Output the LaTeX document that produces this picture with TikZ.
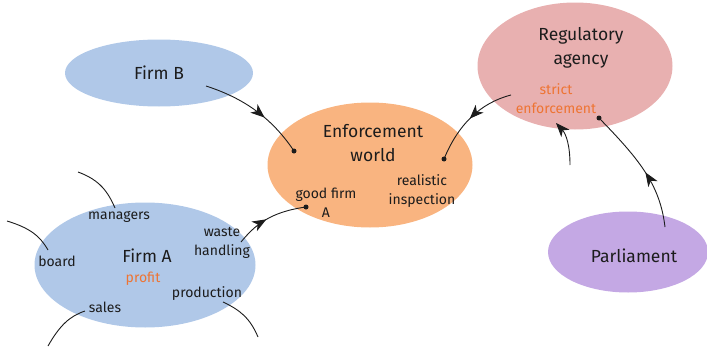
\documentclass[tikz,border=0pt]{standalone}
\usepackage{fontspec}
\setmainfont{Fira Sans}
\usetikzlibrary{shapes.geometric,arrows.meta,decorations.markings}
\definecolor{firmblue}{RGB}{176,200,232}
\definecolor{enforange}{RGB}{249,180,128}
\definecolor{regpink}{RGB}{232,176,176}
\definecolor{parlpurple}{RGB}{196,168,228}
\definecolor{accent}{RGB}{238,116,51}
\definecolor{ink}{RGB}{28,28,28}
\tikzset{
  blob/.style={ellipse, draw=none, inner sep=0pt},
  bigtxt/.style={font=\fontsize{17.5}{24}\selectfont, text=ink, align=center, inner sep=0pt},
  smalltxt/.style={font=\fontsize{14}{19}\selectfont, text=ink, align=center, inner sep=0pt},
  accenttxt/.style={font=\fontsize{14}{19}\selectfont, text=accent, align=center, inner sep=0pt},
  midarrow/.style={postaction={decorate}, decoration={markings,
      mark=at position #1 with {\arrow{Stealth[length=14pt,width=11pt,inset=4pt]}}}},
  conn/.style={draw=ink, line width=0.9pt},
  enddot/.style={circle, fill=ink, inner sep=0pt, minimum size=5pt}
}
\begin{document}
\begin{tikzpicture}[x=1pt,y=-1pt]
\useasboundingbox (0,0) rectangle (707,348);
% ellipses
\node[blob, fill=firmblue, minimum width=188pt, minimum height=67pt] (firmB) at (159,73) {};
\node[blob, fill=firmblue, minimum width=221pt, minimum height=125pt] (firmA) at (145,265) {};
\node[blob, fill=enforange, minimum width=205pt, minimum height=125pt] (enf) at (370,165) {};
\node[blob, fill=regpink, minimum width=195pt, minimum height=127pt] (reg) at (575,66) {};
\node[blob, fill=parlpurple, minimum width=160pt, minimum height=81pt] (parl) at (628,252) {};
% labels
\node[bigtxt] (tFirmB) at (159,73) {Firm B};
\node[bigtxt] (tEnf) at (373,143) {Enforcement\\world};
\node[smalltxt] (tGood) at (326,203) {good firm\\A};
\node[smalltxt] (tReal) at (422,191) {realistic\\inspection};
\node[bigtxt] (tReg) at (581,48) {Regulatory\\agency};
\node[accenttxt] (tStrict) at (556,99) {strict\\enforcement};
\node[bigtxt] (tFirmA) at (147,256) {Firm A};
\node[accenttxt] (tProfit) at (143,279) {profit};
\node[smalltxt] (tMan) at (119,217) {managers};
\node[smalltxt] (tBoard) at (57,261) {board};
\node[smalltxt] (tWaste) at (222,243) {waste\\handling};
\node[smalltxt] (tProd) at (207,294) {production};
\node[smalltxt] (tSales) at (105,307) {sales};
\node[bigtxt] (tParl) at (634,256) {Parliament};
% dots and anchor coordinates
\node[enddot] (d1) at (294,151) {};
\node[enddot] (d2) at (444,159) {};
\node[enddot] (d3) at (306,207) {};
\node[enddot] (d5) at (599,118) {};
\coordinate (s1) at (206,86);
\coordinate (s2) at (511,95);
\coordinate (s3) at (241,242);
\coordinate (s4) at (570,165);
\coordinate (e4) at (556,123);
\coordinate (s5) at (665,227);
\coordinate (m1) at (78,172);  \coordinate (m2) at (115,208);
\coordinate (b1) at (7,221);   \coordinate (b2) at (48,250);
\coordinate (sa1) at (85,311); \coordinate (sa2) at (48,346);
\coordinate (p1) at (223,302); \coordinate (p2) at (258,337);
% connectors
\draw[conn, midarrow=0.6] (s1) .. controls (240,97) and (270,115) .. (d1.center);
\draw[conn, midarrow=0.5] (s2) .. controls (480,103) and (458,125) .. (d2.center);
\draw[conn, midarrow=0.45] (s3) .. controls (255,225) and (270,212) .. (d3.center);
\draw[conn, -{Stealth[length=14pt,width=11pt,inset=4pt]}] (s4) .. controls (570,145) and (566,134) .. (e4);
\draw[conn, midarrow=0.45] (s5) .. controls (660,185) and (640,160) .. (d5.center);
% free lines
\draw[conn] (m1) .. controls (100,180) and (108,192) .. (m2);
\draw[conn] (b1) .. controls (30,228) and (40,236) .. (b2);
\draw[conn] (sa1) .. controls (70,316) and (60,325) .. (sa2);
\draw[conn] (p1) .. controls (240,310) and (250,318) .. (p2);
\end{tikzpicture}
\end{document}
